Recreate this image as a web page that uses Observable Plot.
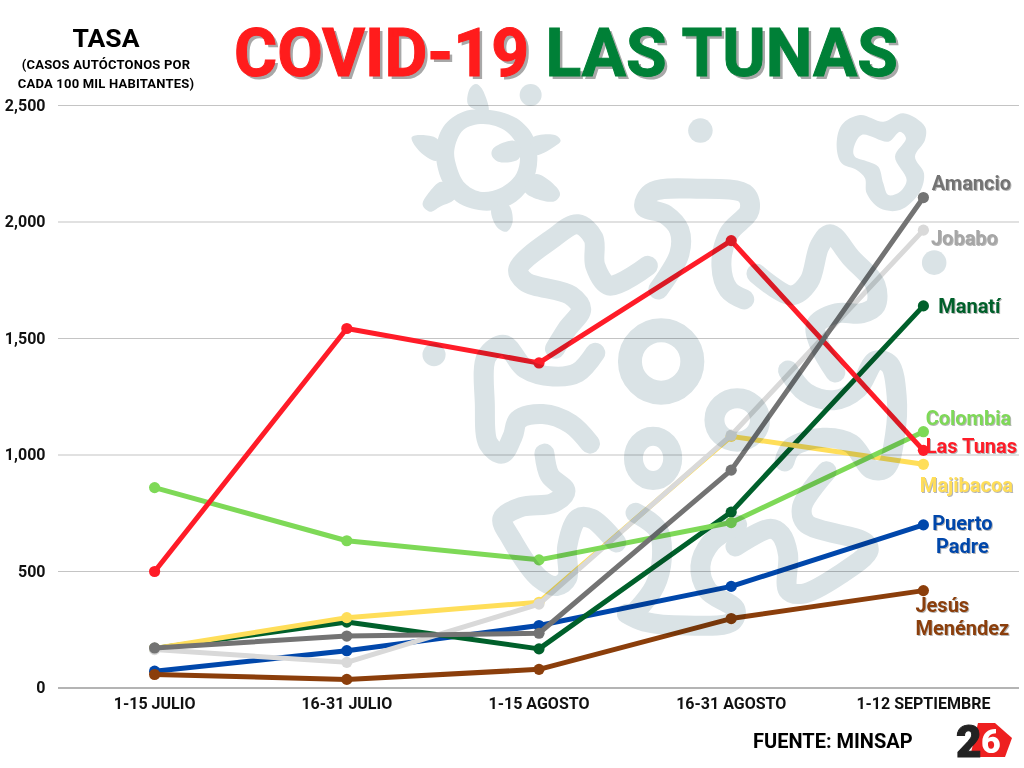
<!DOCTYPE html>
<html lang="es">
<head>
<meta charset="utf-8">
<script src="https://cdn.jsdelivr.net/npm/d3@7"></script>
<script src="https://cdn.jsdelivr.net/npm/@observablehq/plot@0.6"></script>
<style>
html,body{margin:0;padding:0;background:#fff;width:1024px;height:768px;overflow:hidden}
body{position:relative;font-family:Roboto,sans-serif;color:#000}
#chart,#virus,#logo{position:absolute;left:0;top:0}
#virus{mix-blend-mode:multiply;pointer-events:none}
.t{position:absolute;white-space:nowrap;font-weight:700;line-height:1}
#main{left:234px;top:21px;font-size:66px;font-weight:700;text-shadow:3px 3px 0 #a8a8a8}
#main .r{color:#ff1c1c;-webkit-text-stroke:1px #ff1c1c}#main .g{color:#008037;-webkit-text-stroke:1px #008037}
#tasa{left:6px;width:200px;text-align:center;top:25px;font-size:26.5px}
.sub{left:6px;width:200px;text-align:center;font-size:13px;letter-spacing:.2px}
#fuente{left:753px;top:731px;font-size:20px}
</style>
</head>
<body>
<div id="chart"></div>
<svg id="virus" width="1024" height="768"></svg>
<div class="t" id="tasa">TASA</div>
<div class="t sub" style="top:58px">(CASOS AUTÓCTONOS POR</div>
<div class="t sub" style="top:77px">CADA 100 MIL HABITANTES)</div>
<div class="t" id="main"><span class="r">COVID-19</span> <span class="g">LAS TUNAS</span></div>
<div class="t" id="fuente">FUENTE: MINSAP</div>
<svg id="logo" width="1024" height="768">
  <polygon points="978,723 995,723 1012,738 1005,757 970,757" fill="#ee2020"/>
  <text font-family="Roboto" font-weight="900"><tspan x="956" y="757" font-size="44" stroke="#222" stroke-width="1" fill="#222">2</tspan><tspan x="981" y="753" font-size="34" fill="#fff">6</tspan></text>
</svg>
<script>
const periods = ["1-15 JULIO","16-31 JULIO","1-15 AGOSTO","16-31 AGOSTO","1-12 SEPTIEMBRE"];
const yTicks = [0,500,1000,1500,2000,2500];

const manati      = [170,283,168,755,1640];
const puertoPadre = [72,160,268,436,700];
const majibacoa   = [170,302,368,1080,960];
const jobabo      = [165,110,360,1085,1965];
const colombia    = [860,632,550,710,1100];
const jesus       = [58,37,80,298,418];
const lasTunas    = [500,1543,1395,1920,1020];
const amancio     = [172,223,235,935,2105];

// back to front
const seriesList = [
  {name:"Puerto\nPadre",     values:puertoPadre, color:"#0047ab", dx:39, dy:9},
  {name:"Manatí",            values:manati,      color:"#00602b", dx:46, dy:0},
  {name:"Majibacoa",         values:majibacoa,   color:"#ffde59", dx:43, dy:20},
  {name:"Jobabo",            values:jobabo,      color:"#d9d9d9", dx:41, dy:7, labelColor:"#a6a6a6"},
  {name:"Jesús\nMenéndez",   values:jesus,       color:"#8b3e0b", dx:-8, dy:25.5, anchor:"start"},
  {name:"Colombia",          values:colombia,    color:"#7ed957", dx:45, dy:-14},
  {name:"Las Tunas",         values:lasTunas,    color:"#ff1c28", dx:48, dy:-5},
  {name:"Amancio",           values:amancio,     color:"#737373", dx:48, dy:-15}
];

const marks = [
  Plot.ruleY(yTicks.filter(d => d > 0), {stroke:"#c4c4c4", strokeWidth:1.2, strokeOpacity:1}),
  Plot.ruleY([0], {stroke:"#b4b4b4", strokeWidth:2, strokeOpacity:1}),
  Plot.axisY({ticks:yTicks, tickSize:0, tickPadding:0, tickFormat:d3.format(","), label:null, fontSize:16, fontWeight:700, dx:-13, fill:"#111"}),
  Plot.axisX({tickSize:0, tickPadding:10, label:null, fontSize:16, fontWeight:700, fill:"#111"})
];
for (const s of seriesList) {
  const rows = periods.map((p,i) => ({p, v:s.values[i]}));
  marks.push(Plot.line(rows, {x:"p", y:"v", stroke:s.color, strokeWidth:5, curve:"linear"}));
  marks.push(Plot.dot(rows, {x:"p", y:"v", fill:s.color, r:5.6}));
}
for (const s of seriesList) {
  marks.push(Plot.text([{p:periods[4], v:s.values[4]}], {
    x:"p", y:"v", text:() => s.name,
    dx:s.dx, dy:s.dy, textAnchor:s.anchor || "middle",
    fill:s.labelColor || s.color, fontSize:20, fontWeight:700, lineHeight:1.15,
    imageFilter:"drop-shadow(1px 1px 0 #b5b5b5)"
  }));
}

const plot = Plot.plot({
  width:1024, height:768,
  marginLeft:58, marginRight:5, marginTop:105, marginBottom:80.5,
  style:{background:"transparent", fontFamily:"Roboto, sans-serif", overflow:"visible"},
  x:{type:"point", domain:periods, padding:0.5, round:false},
  y:{domain:[0,2500]},
  marks
});
document.getElementById("chart").append(plot);

// Decorative virus silhouette over the chart, multiplied (traced in crop units)
const bg = "#dae3e6";
const svg = d3.select("#virus");
const open = d3.line().curve(d3.curveCatmullRom.alpha(0.5));
const closed = d3.line().curve(d3.curveCatmullRomClosed.alpha(0.5));

// Small germ
const germ = svg.append("g").attr("transform","translate(400,80) scale(0.3333)");
germ.append("path").attr("fill",bg).attr("fill-rule","evenodd").attr("d",
  closed([[108,215],[130,140],[190,95],[270,90],[350,115],[400,170],[412,240],[395,310],[340,370],[260,392],[170,365],[125,300]]) +
  closed([[163,210],[190,150],[250,132],[320,155],[358,215],[350,280],[300,325],[240,335],[195,310],[170,260]]));
for (const pts of [
  [[205,75],[210,25],[228,12],[245,25],[265,95]],
  [[35,172],[70,165],[115,180],[110,242],[60,215]],
  [[395,175],[465,165],[482,182],[470,195],[405,225]],
  [[408,282],[470,322],[480,345],[460,365],[375,335]],
  [[275,385],[290,440],[320,455],[338,425],[325,375]],
  [[125,305],[85,340],[68,375],[90,395],[120,380],[165,355]],
  [[280,205],[340,182],[362,200],[355,238],[295,245],[275,225]]
]) germ.append("path").attr("fill",bg).attr("d",closed(pts));
germ.append("circle").attr("cx",392).attr("cy",45).attr("r",33).attr("fill",bg);

// Top-right shape
svg.append("g").attr("transform","translate(800,100) scale(0.3333)")
  .append("path").attr("fill",bg).attr("fill-rule","evenodd").attr("d",
    closed([[110,140],[125,75],[180,45],[250,65],[310,40],[375,80],[375,120],[345,170],[372,220],[360,275],[300,330],[240,325],[200,280],[195,235],[170,210],[125,190]]) +
    closed([[160,150],[185,105],[265,125],[300,95],[318,115],[285,170],[320,240],[300,275],[265,285],[250,250],[235,200],[205,185],[165,170]]));

// Main body
const vs = svg.append("g").attr("transform","translate(420,80) scale(0.3505,0.3953)");
const strokes = [
  [[650,470],[540,520],[500,470],[495,400],[450,365],[380,400],[280,480],[300,510],[430,545],[460,580],[420,630],[385,680]],
  [[680,530],[740,440],[740,380],[700,340],[640,320],[660,285],[790,275],[930,290],[940,330],[880,390],[860,470],[880,530],[925,555]],
  [[960,490],[1060,545],[1110,510],[1140,420],[1170,390],[1230,450],[1300,520],[1300,570],[1260,590],[1190,590],[1130,620],[1140,670],[1185,740]],
  [[1050,735],[1100,790],[1180,810],[1250,780],[1300,710],[1340,720],[1360,800],[1355,900],[1330,980],[1290,985],[1230,920],[1150,905],[1060,930],[1040,965]],
  [[1160,990],[1090,1080],[1100,1120],[1270,1170],[1280,1190],[1200,1250],[1090,1300],[1050,1290],[1050,1200],[1030,1150],[1000,1135],[900,1180]],
  [[905,1125],[830,1170],[800,1230],[820,1290],[900,1340],[890,1370],[760,1380],[640,1370],[590,1350]],
  [[615,1095],[680,1140],[690,1210],[670,1280],[620,1340]],
  [[355,945],[370,1000],[415,1040],[380,1070],[290,1080],[235,1110],[260,1160],[340,1260],[390,1280],[420,1260],[420,1180],[450,1110],[490,1110],[560,1170]],
  [[500,690],[450,740],[380,750],[300,730],[240,670],[190,700],[185,820],[195,920],[235,945],[265,900],[280,860],[350,845],[430,870],[485,920]]
];
for (const pts of strokes) {
  vs.append("path").attr("d",open(pts)).attr("fill","none").attr("stroke",bg)
    .attr("stroke-width",20).attr("stroke-linecap","round").attr("stroke-linejoin","round")
    .attr("vector-effect","non-scaling-stroke");
}
const ring = (cx,cy,rx,ry,w) => vs.append("ellipse").attr("cx",cx).attr("cy",cy).attr("rx",rx).attr("ry",ry)
    .attr("fill","none").attr("stroke",bg).attr("stroke-width",w).attr("vector-effect","non-scaling-stroke");
ring(688,712,89,79,24);
ring(665,957,56,56,19);
ring(905,860,65,55,20);
for (const [cx,cy,rx,ry] of [[800,128,35,31],[1467,462,35,31],[40,695,33,29]]) {
  vs.append("ellipse").attr("cx",cx).attr("cy",cy).attr("rx",rx).attr("ry",ry).attr("fill",bg);
}
</script>
</body>
</html>
